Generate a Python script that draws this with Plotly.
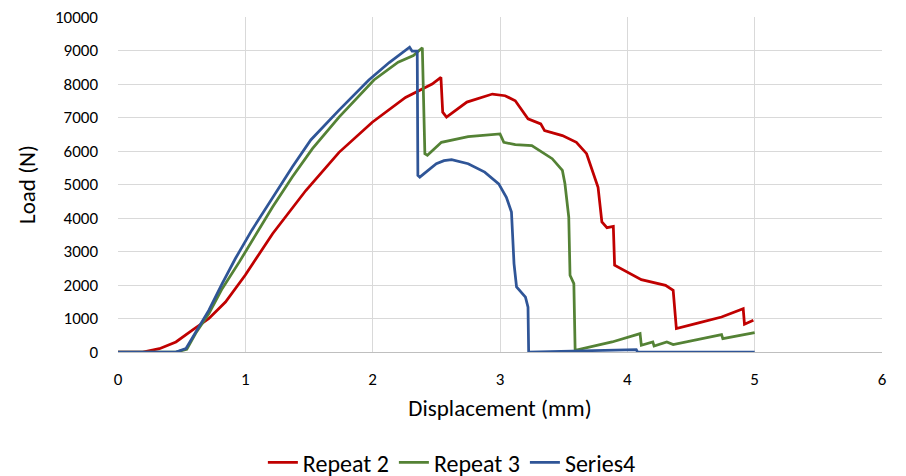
import plotly.graph_objects as go

# Repeat 2 (red)
r2_x = [0, 0.195, 0.325, 0.455, 0.584, 0.714, 0.844, 1.0, 1.214, 1.475, 1.736, 1.997,
        2.258, 2.467, 2.536, 2.55, 2.58, 2.74, 2.94, 3.04, 3.12, 3.18, 3.22, 3.32, 3.35,
        3.49, 3.60, 3.68, 3.77, 3.80, 3.84, 3.89, 3.90, 4.11, 4.30, 4.36, 4.385, 4.56,
        4.74, 4.91, 4.92, 4.99]
r2_y = [0, 0, 100, 300, 650, 1000, 1490, 2300, 3530, 4820, 5960, 6860,
        7600, 8000, 8200, 7160, 7010, 7460, 7700, 7650, 7500, 7160, 6960, 6810, 6610,
        6460, 6260, 5920, 4920, 3880, 3710, 3750, 2590, 2160, 1990, 1840, 700, 870,
        1045, 1290, 830, 945]

# Repeat 3 (green)
r3_x = [0, 0.455, 0.54, 0.61, 0.714, 0.818, 0.953, 1.214, 1.37, 1.527, 1.736, 2.01,
        2.20, 2.32, 2.39, 2.41, 2.43, 2.54, 2.75, 3.0, 3.03, 3.12, 3.25, 3.33, 3.41,
        3.49, 3.51, 3.54, 3.55, 3.58, 3.59, 3.88, 4.10, 4.11, 4.20, 4.21, 4.31, 4.36,
        4.74, 4.75, 5.0]
r3_y = [0, 0, 80, 560, 1150, 1890, 2690, 4330, 5230, 6070, 7010, 8120,
        8650, 8850, 9080, 5920, 5870, 6260, 6430, 6510, 6260, 6190, 6160, 5960, 5770,
        5420, 5020, 4030, 2290, 2040, 50, 300, 550, 200, 300, 180, 300, 220,
        520, 400, 580]

# Series4 (blue)
s4_x = [0, 0.455, 0.533, 0.61, 0.714, 0.818, 0.922, 1.05, 1.214, 1.37, 1.514, 1.736,
        1.97, 2.13, 2.29, 2.31, 2.35, 2.355, 2.37, 2.43, 2.50, 2.56, 2.62, 2.75, 2.88,
        2.99, 3.05, 3.09, 3.11, 3.13, 3.20, 3.22, 3.225, 4.07, 4.08, 5.0]
s4_y = [0, 0, 100, 600, 1250, 2040, 2790, 3630, 4590, 5530, 6330, 7220,
        8120, 8640, 9100, 8980, 8980, 5270, 5220, 5400, 5620, 5710, 5740, 5620, 5370,
        5020, 4620, 4180, 2640, 1940, 1640, 1340, 0, 70, 0, 0]

y_ticks = [0, 1000, 2000, 3000, 4000, 5000, 6000, 7000, 8000, 9000, 10000]

names = ["Repeat 2", "Repeat 3", "Series4"]
colors = ["#C00000", "#548235", "#2F5597"]

font_family = "Carlito, Calibri, Lato, sans-serif"

fig = go.Figure()
for xs, ys, n, c in zip([r2_x, r3_x, s4_x], [r2_y, r3_y, s4_y], names, colors):
    fig.add_trace(go.Scatter(x=xs, y=ys, mode="lines", name=n,
                             line=dict(color=c, width=2.75)))

fig.update_layout(
    width=898, height=500,
    margin=dict(l=110, r=24, t=9, b=156),
    paper_bgcolor="white", plot_bgcolor="white",
    font=dict(family=font_family, size=17, color="#000000"),
    showlegend=True,
    legend=dict(orientation="h", x=0.437, xanchor="center",
                y=-0.331, yanchor="middle", font=dict(size=24), tracegroupgap=0),
)
fig.update_xaxes(range=[0, 6], dtick=1, showgrid=True, gridcolor="#D9D9D9", gridwidth=1,
                 zeroline=False, showline=True, linecolor="#BFBFBF", linewidth=1,
                 ticks="", automargin=False, ticklabelstandoff=12,
                 title=dict(text="Displacement (mm)", font=dict(size=23), standoff=10))
fig.update_yaxes(range=[0, 10000], tickmode="array", tickvals=y_ticks,
                 ticktext=[str(v) for v in y_ticks], showgrid=True,
                 gridcolor="#D9D9D9", gridwidth=1, ticklabeloverflow="allow",
                 zeroline=False, showline=False, ticks="", automargin=False,
                 ticklabelstandoff=19,
                 title=dict(text="Load (N)", font=dict(size=23), standoff=12))

fig.write_html("out.html")
